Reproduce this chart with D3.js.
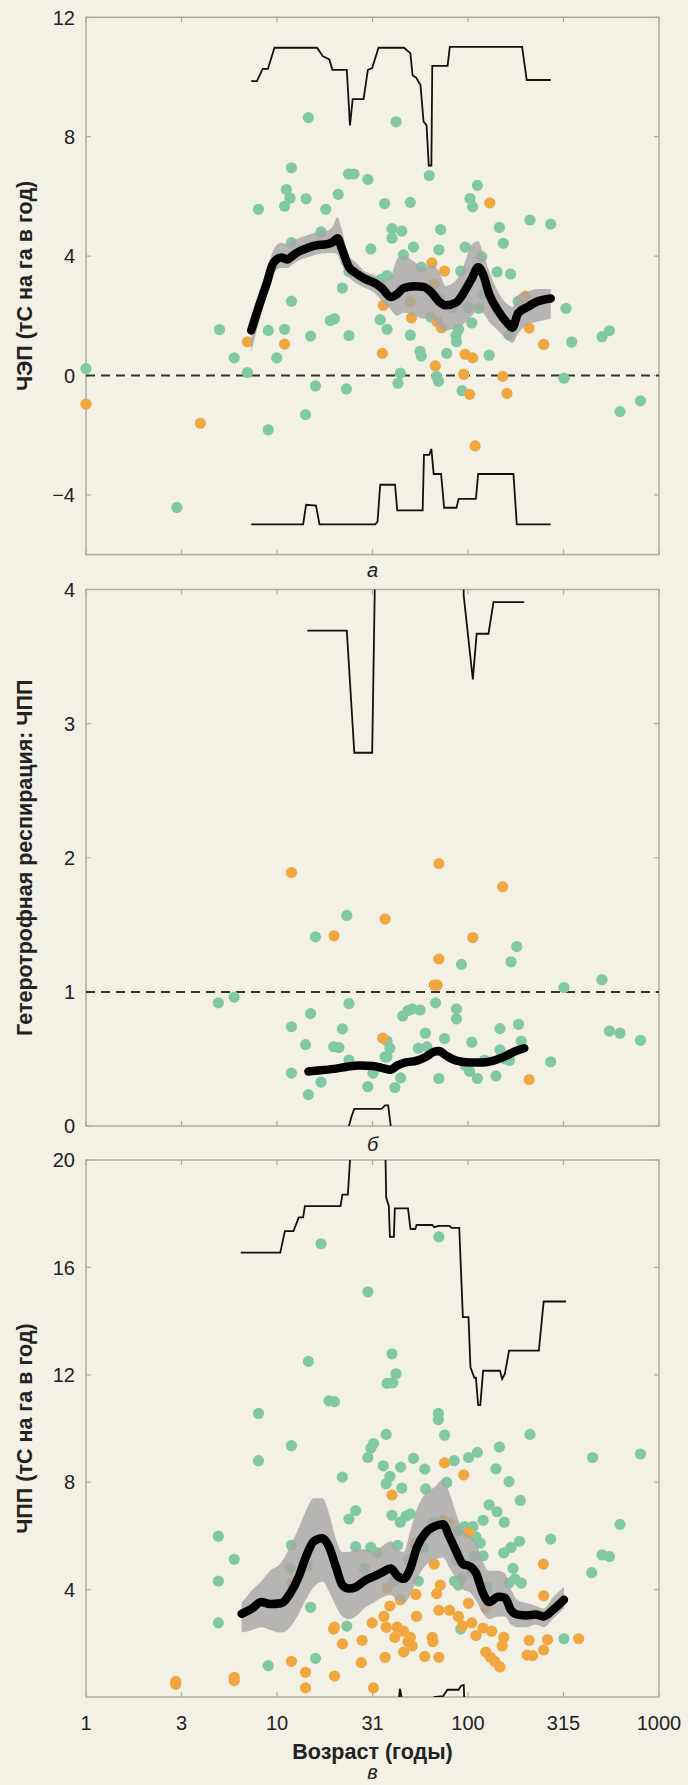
<!DOCTYPE html>
<html>
<head>
<meta charset="utf-8">
<title>ЧЭП, гетеротрофная респирация и ЧПП по возрасту</title>
<script src="https://d3js.org/d3.v7.min.js"></script>
<style>
  body { margin: 0; background: #f3f0e6; }
  svg { display: block; }
</style>
</head>
<body>
<div id="vis"></div>
<script>

// ---- x axis (age, log) ----
const ageTicks = [1, 3.1623, 10, 31.623, 100, 316.23, 1000];
const ageTickLabels = ["1", "3", "10", "31", "100", "315", "1000"];

// ---- panel a: ЧЭП ----
const nepTicks = [12, 8, 4, 0, -4];
const nepGreen = [[1.0,0.23],[5.0,1.54],[5.97,0.59],[7.0,0.10],[2.99,-4.42],[8.0,5.57],[9.0,1.51],[9.0,-1.82],[9.97,0.59],[10.96,5.67],[11.2,6.23],[11.7,5.94],[11.9,6.96],[10.96,1.55],[11.9,2.49],[11.9,4.45],[14.2,5.92],[14.6,8.64],[14.1,-1.31],[15.0,1.32],[15.9,-0.35],[18.0,5.57],[17.0,4.81],[19.0,1.84],[20.0,1.90],[20.9,6.07],[22.0,2.93],[23.1,-0.45],[23.8,1.34],[23.7,6.75],[25.3,6.75],[23.8,3.48],[29.9,6.57],[31.0,4.24],[36.6,5.76],[34.7,1.87],[37.7,1.55],[37.7,3.35],[40.0,4.92],[40.0,4.60],[45.0,4.84],[42.0,8.50],[45.9,4.04],[49.9,5.80],[51.8,4.30],[49.9,1.35],[44.2,0.08],[43.0,-0.26],[56.1,0.81],[56.9,0.65],[62.7,6.70],[68.5,-0.03],[70.0,-0.19],[70.4,4.21],[71.9,4.89],[77.4,0.74],[86.5,1.34],[89.3,1.55],[93.1,-0.51],[96.6,4.30],[102.5,5.93],[105.7,5.65],[112,6.37],[104.7,1.76],[118,3.98],[129,0.68],[142,3.47],[146,4.96],[153,4.43],[167,3.40],[164,1.36],[211,5.21],[271,5.07],[326,2.25],[349,1.12],[318,-0.09],[503,1.30],[550,1.50],[625,-1.21],[800,-0.85],[91.6,3.50],[87,1.13],[56.9,3.63],[63.8,1.96],[70.4,2.61],[83,2.28],[100,2.28],[114,2.25],[120,2.73],[128,2.73],[183,2.48],[35,3.22]];
const nepOrange = [[1.0,-0.96],[3.97,-1.60],[7.0,1.13],[10.96,1.05],[35.6,0.74],[36.0,2.35],[49.9,2.48],[50.6,1.93],[64.7,3.77],[75.4,3.50],[66.5,3.06],[68.8,1.80],[72.6,1.60],[67.4,0.32],[95,0.04],[96.6,0.71],[105.7,0.59],[101.9,-0.63],[109,-2.36],[130,5.78],[152,-0.03],[160,-0.60],[200,2.66],[209,1.59],[249,1.04]];
const nepAges = [7.33,8.07,8.87,9.55,10.5,11.4,11.95,13,14.4,16,18.3,19.6,20.7,21.8,23.8,25.8,28.6,32.7,35.4,39.4,42.5,46.1,52.6,58.5,64,70.4,76.3,87,94,104.7,113,120,129,144,160,171,183,203,231,271];
const nepMean = [1.51,2.35,3.12,3.76,3.95,3.89,3.99,4.15,4.27,4.36,4.40,4.47,4.60,4.27,3.63,3.44,3.25,3.09,2.93,2.63,2.73,2.93,2.99,2.97,2.80,2.48,2.35,2.45,2.73,3.25,3.63,3.38,2.73,2.16,1.77,1.60,2.09,2.28,2.48,2.58];
const nepHigh = [1.9,2.8,3.5,4.2,4.45,4.4,4.5,4.6,4.7,4.8,4.85,5.0,5.3,4.9,4.0,3.8,3.5,3.35,3.2,3.3,3.9,4.0,3.8,3.6,3.7,3.5,3.0,3.2,3.6,4.4,4.5,4.1,3.5,2.8,2.4,2.3,2.7,2.8,2.9,2.9];
const nepLow = [0.8,1.8,2.7,3.4,3.6,3.6,3.7,3.85,3.95,4.05,4.1,4.1,4.05,3.7,3.3,3.1,2.95,2.75,2.5,2.2,2.0,2.1,2.0,1.9,1.9,1.6,1.5,1.6,1.7,2.0,2.2,2.1,1.8,1.5,1.2,1.1,1.4,1.7,1.8,1.9];
const nepUpperStep = [[7.33,9.86],[7.85,9.86],[8.41,10.27],[8.96,10.27],[9.70,10.98],[16.2,10.98],[17.4,10.69],[18.8,10.59],[19.5,10.24],[23.2,10.24],[24.1,8.38],[24.9,9.26],[28.4,9.26],[29.9,10.24],[31.5,10.3],[34.0,10.98],[46.2,10.98],[49.9,10.8],[51.3,10.05],[53.5,9.98],[56.4,9.73],[58.5,8.51],[60.7,8.38],[62.3,7.03],[64.3,7.03],[65.0,10.37],[78.2,10.37],[80.3,11.01],[192,11.01],[203,9.90],[271,9.90]];
const nepLowerStep = [[7.33,-4.99],[13.7,-4.99],[14.2,-4.33],[16.0,-4.36],[16.7,-4.99],[32.7,-4.99],[33.6,-4.9],[34.7,-3.66],[41.5,-3.66],[42.6,-4.52],[57.9,-4.52],[58.8,-2.66],[62.7,-2.66],[64.3,-2.46],[66.1,-3.30],[72.3,-3.30],[75.0,-4.43],[87.0,-4.43],[89.3,-4.13],[110,-4.13],[113,-3.30],[173,-3.30],[180,-4.99],[271,-4.99]];

// ---- panel b: гетеротрофная респирация : ЧПП ----
const rhTicks = [4, 3, 2, 1, 0];
const rhGreen = [[4.93,0.918],[5.97,0.961],[11.9,0.740],[11.9,0.394],[14.1,0.607],[14.6,0.234],[15.0,0.838],[15.9,1.41],[17.0,0.327],[19.8,0.591],[21.1,0.585],[22.0,0.724],[23.2,1.57],[23.8,0.913],[23.8,0.492],[29.9,0.293],[31.8,0.394],[37.7,0.633],[37.7,0.516],[39,0.58],[36.8,0.516],[41.4,0.287],[44.4,0.359],[45.5,0.82],[48.5,0.86],[51.1,0.873],[56.1,0.865],[59.8,0.692],[67.6,0.918],[70.4,0.354],[75.4,0.652],[87,0.873],[87,0.798],[92.4,1.205],[104.7,0.625],[102,0.407],[112,0.354],[140,0.373],[147,0.726],[147,0.567],[168,1.224],[180,1.338],[184,0.758],[190,0.633],[271,0.479],[318,1.032],[503,1.091],[550,0.708],[625,0.692],[800,0.639],[55,0.58],[61,0.59],[97,0.45],[122,0.49],[156,0.50],[165,0.49]];
const rhOrange = [[11.9,1.89],[19.9,1.418],[36.8,1.543],[35.8,0.655],[70.4,1.956],[70.4,1.245],[66.5,1.051],[69,1.051],[106,1.405],[152,1.783],[209,0.346]];
const rhAges = [14.6,16.9,19.8,23.2,27.1,31.8,35.3,39.4,42.7,47.3,54.1,60,66.5,70.4,76.5,87,102,120,136,156,178,197];
const rhMean = [0.407,0.415,0.426,0.442,0.452,0.447,0.434,0.42,0.452,0.474,0.487,0.514,0.553,0.559,0.527,0.487,0.474,0.474,0.487,0.519,0.559,0.58];
const rhHigh = [0.43,0.44,0.45,0.47,0.48,0.47,0.46,0.45,0.48,0.50,0.51,0.54,0.58,0.59,0.55,0.51,0.50,0.50,0.51,0.54,0.58,0.60];
const rhLow = [0.385,0.39,0.40,0.415,0.425,0.42,0.41,0.395,0.425,0.45,0.46,0.49,0.525,0.53,0.50,0.46,0.45,0.45,0.46,0.495,0.535,0.555];
const rhUpperStep = [[14.4,3.693],[23.2,3.693],[25.4,2.783],[31.5,2.783],[33,4.6],[93,4.6],[95,3.95],[106,3.33],[111,3.67],[128,3.67],[136,3.906],[197,3.906]];
const rhLowerStep = [[23.5,-0.1],[23.8,0.0],[24.6,0.075],[25.4,0.128],[35.3,0.128],[36.8,0.154],[38.2,0.154],[39.4,0.0],[40,-0.1]];

// ---- panel c: ЧПП ----
const nppTicks = [20, 16, 12, 8, 4];
const nppGreen = [[4.93,5.99],[4.93,4.32],[4.93,2.76],[5.97,5.13],[8.0,10.56],[8.0,8.80],[9.0,1.17],[11.9,9.36],[11.9,5.65],[14.6,12.50],[15.0,3.34],[15.9,1.44],[17.0,16.88],[18.7,11.03],[20.0,11.0],[22.0,8.19],[23.2,2.64],[23.8,6.63],[25.8,6.94],[25.8,5.60],[29.9,15.09],[29.9,8.92],[31.0,9.27],[32,9.44],[33.5,5.37],[36,8.61],[37.3,9.78],[37.3,7.94],[37.7,11.68],[40,12.78],[42,12.04],[40.4,11.70],[39,8.22],[40,6.77],[42.8,5.65],[44.4,8.56],[45,7.78],[44.2,6.51],[47.4,6.74],[49.9,6.82],[51.8,8.89],[59.4,8.49],[60,7.75],[58.5,5.57],[70,10.56],[70,10.33],[70.4,17.14],[75.4,9.75],[77.4,7.99],[84.6,8.80],[87,5.10],[91.6,2.53],[100.6,8.92],[112,9.11],[106,6.35],[120,6.58],[129,7.16],[140,8.50],[146,9.31],[142,6.90],[155,6.51],[164,8.02],[188,7.32],[154,5.37],[168,5.57],[186,5.80],[190,4.24],[211,9.78],[271,5.88],[318,2.17],[449,8.92],[444,4.63],[503,5.29],[550,5.23],[625,6.43],[800,9.05],[89,6.19],[96,6.35],[102,6.19],[110,5.96],[116,5.73],[108,5.26],[96,4.95],[105,4.63],[92,4.40],[85,4.32],[89,4.17],[120,5.26],[78,6.35],[66,6.51],[62,6.19],[55,4.32],[48.5,5.10],[41,4.32],[28.7,4.79],[31,5.57],[14.4,4.87],[11.7,4.79],[126,4.09],[172,4.79],[164,4.24],[176,4.40]];
const nppOrange = [[2.95,0.58],[2.95,0.47],[5.97,0.73],[5.97,0.61],[11.9,1.33],[11.9,4.24],[14.1,0.92],[14.1,0.34],[19.8,2.53],[20,2.60],[20,0.78],[22,1.98],[27.9,2.11],[27.6,1.28],[31.5,2.76],[32,0.34],[36.8,1.48],[37.3,2.60],[37.7,4.06],[40,7.52],[36.3,3.0],[39,3.39],[41.4,2.22],[42.5,2.60],[44.2,3.62],[46,2.45],[48.5,2.06],[49.9,2.22],[52.5,5.73],[53.3,3.82],[53.8,3.0],[59.4,1.51],[65,2.22],[65.5,2.06],[70.4,1.48],[66.5,4.95],[68.6,3.85],[70.4,3.23],[71.6,4.17],[74,6.58],[75.4,8.72],[80,6.5],[80,3.23],[89,3.0],[95,8.27],[100.6,6.12],[100.6,3.49],[93.5,2.64],[104.7,2.76],[110,2.29],[120,2.57],[124,3.31],[124,1.67],[131,1.48],[138,1.33],[147,1.12],[154,2.22],[133,2.45],[151,1.90],[204,1.56],[209,2.11],[218,1.54],[249,1.75],[248,4.95],[249,3.77],[261,2.14],[380,2.17],[46,1.67],[51,1.9]];
const nppAges = [6.53,7.45,8.26,9.2,10.5,11.7,13.0,14.1,15.6,17.3,18.8,20.3,22,23.8,25.8,28.6,31.8,35.3,39.4,42.7,46.1,49.9,54,60,66.5,74,80,87,94,102,110,120,129,144,156,168,182,203,226,249,277,318];
const nppMean = [3.10,3.31,3.54,3.46,3.49,3.85,4.48,5.18,5.80,5.91,5.57,4.87,4.17,4.04,4.09,4.32,4.48,4.63,4.79,4.51,4.40,4.79,5.57,6.12,6.35,6.43,5.96,5.41,4.95,4.87,4.63,3.85,3.54,3.73,3.70,3.23,3.07,3.04,3.07,3.0,3.23,3.62];
const nppHigh = [3.5,4.0,4.3,4.7,5.0,5.6,6.3,6.9,7.4,7.4,6.8,5.9,5.4,5.4,5.5,5.5,5.4,5.6,5.8,5.5,5.4,6.2,7.0,7.6,7.8,8.1,7.6,6.8,6.2,6.0,5.8,5.0,4.7,4.7,4.6,4.0,3.6,3.5,3.4,3.3,3.7,4.1];
const nppLow = [2.4,2.5,2.6,2.5,2.4,2.6,3.1,3.6,4.1,4.3,3.9,3.4,3.0,2.9,3.0,3.3,3.5,3.7,3.8,3.6,3.5,3.8,4.4,4.9,5.1,5.2,4.8,4.4,4.0,3.9,3.6,3.1,2.9,3.0,3.0,2.7,2.6,2.6,2.7,2.6,2.9,3.3];
const nppUpperStep = [[6.46,16.55],[10.4,16.55],[11.0,17.35],[12.2,17.35],[13.0,17.86],[13.7,17.86],[14.0,18.28],[21.5,18.28],[22.0,18.71],[23.5,18.71],[24.6,21],[36.8,21],[37.3,18.6],[38.5,18.28],[39,17.14],[40.9,17.14],[41.4,18.2],[48.5,18.2],[50,17.43],[53,17.43],[53.8,17.58],[65,17.58],[66.5,17.5],[70.4,17.55],[80,17.55],[82,17.47],[90,17.47],[94,14.15],[100.6,14.15],[103,12.28],[108,11.89],[110,11.89],[113,10.87],[116,10.87],[120,12.15],[147,12.15],[151,11.84],[156,12.04],[164,12.9],[235,12.9],[249,14.73],[326,14.73]];
const nppLowerStep = [[43.5,-0.1],[44,0.3],[44.5,0.15],[45,-0.1],[66,-0.1],[66.5,0.0],[74,0.03],[78,0.27],[89.3,0.27],[92,0.42],[95,0.45],[95.6,-0.1]];

// ---- layout ----
const W = 688, H = 1785;
const plotLeft = 86, plotRight = 659;
const green = "#80c9a2", orange = "#f0a740", band = "#a6a6a6", frameColor = "#aeaca4";
const font = "'Liberation Sans', Arial, sans-serif";

const svg = d3.select("#vis").append("svg")
  .attr("width", W).attr("height", H)
  .style("background", "#f3f0e6");

const x = d3.scaleLog().domain([1, 1000]).range([plotLeft, plotRight]);

function drawPanel(p, idx) {
  const y = d3.scaleLinear().domain(p.domain).range([p.bottom, p.top]);
  const g = svg.append("g");

  g.append("clipPath").attr("id", "clip" + idx)
    .append("rect")
    .attr("x", plotLeft).attr("y", p.top)
    .attr("width", plotRight - plotLeft).attr("height", p.bottom - p.top);

  // frame
  g.append("rect")
    .attr("x", plotLeft).attr("y", p.top)
    .attr("width", plotRight - plotLeft).attr("height", p.bottom - p.top)
    .attr("fill", "none").attr("stroke", frameColor).attr("stroke-width", 1.5);

  // ticks on all four sides, pointing inwards
  g.selectAll(".xt").data(ageTicks).join("path")
    .attr("d", d => `M${x(d)},${p.bottom}v-5M${x(d)},${p.top}v5`)
    .attr("stroke", frameColor).attr("stroke-width", 1.2);
  g.selectAll(".yt").data(p.ticks).join("path")
    .attr("d", d => `M${plotLeft},${y(d)}h5M${plotRight},${y(d)}h-5`)
    .attr("stroke", frameColor).attr("stroke-width", 1.2);

  g.selectAll(".yl").data(p.ticks).join("text")
    .attr("x", plotLeft - 11).attr("y", d => y(d))
    .attr("dy", "0.36em")
    .attr("text-anchor", "end")
    .attr("font-family", font).attr("font-size", 20).attr("fill", "#222")
    .text(d => d < 0 ? "\u2212" + Math.abs(d) : d);

  g.append("text")
    .attr("transform", `translate(32,${(p.top + p.bottom) / 2}) rotate(-90)`)
    .attr("text-anchor", "middle")
    .attr("font-family", font).attr("font-size", 21.5).attr("font-weight", "bold")
    .attr("fill", "#222")
    .text(p.title);

  // reference line
  if (p.ref !== null) {
    g.append("line")
      .attr("x1", plotLeft).attr("x2", plotRight)
      .attr("y1", y(p.ref)).attr("y2", y(p.ref))
      .attr("stroke", "#333").attr("stroke-width", 2)
      .attr("stroke-dasharray", "9,6");
  }

  // dots
  g.selectAll(".g").data(p.green).join("circle")
    .attr("cx", d => x(d[0])).attr("cy", d => y(d[1])).attr("r", 5.6)
    .attr("fill", green);
  g.selectAll(".o").data(p.orange).join("circle")
    .attr("cx", d => x(d[0])).attr("cy", d => y(d[1])).attr("r", 5.6)
    .attr("fill", orange);

  // band + running mean
  const idxs = d3.range(p.ages.length);
  g.append("path")
    .datum(idxs)
    .attr("d", d3.area()
      .x(i => x(p.ages[i]))
      .y0(i => y(p.low[i]))
      .y1(i => y(p.high[i]))
      .curve(d3.curveMonotoneX))
    .attr("fill", band).attr("opacity", 0.8);

  g.append("path")
    .datum(idxs)
    .attr("d", d3.line()
      .x(i => x(p.ages[i]))
      .y(i => y(p.mean[i]))
      .curve(d3.curveMonotoneX))
    .attr("fill", "none").attr("stroke", "#000")
    .attr("stroke-width", 8.5).attr("stroke-linejoin", "round").attr("stroke-linecap", "round");

  // thin step curves
  const stepLine = d3.line().x(d => x(d[0])).y(d => y(d[1]));
  [p.upper, p.lower].forEach(s => {
    g.append("path")
      .datum(s)
      .attr("d", stepLine)
      .attr("clip-path", `url(#clip${idx})`)
      .attr("fill", "none").attr("stroke", "#111").attr("stroke-width", 1.8);
  });

  g.append("text")
    .attr("x", (plotLeft + plotRight) / 2).attr("y", p.letterY)
    .attr("text-anchor", "middle")
    .attr("font-family", font).attr("font-size", 20).attr("font-style", "italic")
    .attr("fill", "#222")
    .text(p.letter);

  return y;
}

const panels = [
  { top: 17.3, bottom: 554.6, domain: [-6, 12], ticks: nepTicks, ref: 0,
    title: "ЧЭП (тС на га в год)", letter: "а", letterY: 577,
    green: nepGreen, orange: nepOrange, ages: nepAges, mean: nepMean, high: nepHigh, low: nepLow,
    upper: nepUpperStep, lower: nepLowerStep },
  { top: 589.5, bottom: 1126, domain: [0, 4], ticks: rhTicks, ref: 1,
    title: "Гетеротрофная респирация: ЧПП", letter: "б", letterY: 1151,
    green: rhGreen, orange: rhOrange, ages: rhAges, mean: rhMean, high: rhHigh, low: rhLow,
    upper: rhUpperStep, lower: rhLowerStep },
  { top: 1160, bottom: 1697, domain: [0, 20], ticks: nppTicks, ref: null,
    title: "ЧПП (тС на га в год)", letter: "в", letterY: 1779,
    green: nppGreen, orange: nppOrange, ages: nppAges, mean: nppMean, high: nppHigh, low: nppLow,
    upper: nppUpperStep, lower: nppLowerStep }
];

panels.forEach((p, i) => drawPanel(p, i));

// x tick labels and title only under the last panel
svg.selectAll(".xl").data(ageTicks).join("text")
  .attr("x", d => x(d)).attr("y", 1723)
  .attr("dy", "0.36em")
  .attr("text-anchor", "middle")
  .attr("font-family", font).attr("font-size", 20).attr("fill", "#222")
  .text((d, i) => ageTickLabels[i]);

svg.append("text")
  .attr("x", (plotLeft + plotRight) / 2).attr("y", 1751)
  .attr("dy", "0.36em")
  .attr("text-anchor", "middle")
  .attr("font-family", font).attr("font-size", 21.5).attr("font-weight", "bold")
  .attr("fill", "#222")
  .text("Возраст (годы)");

</script>
</body>
</html>
